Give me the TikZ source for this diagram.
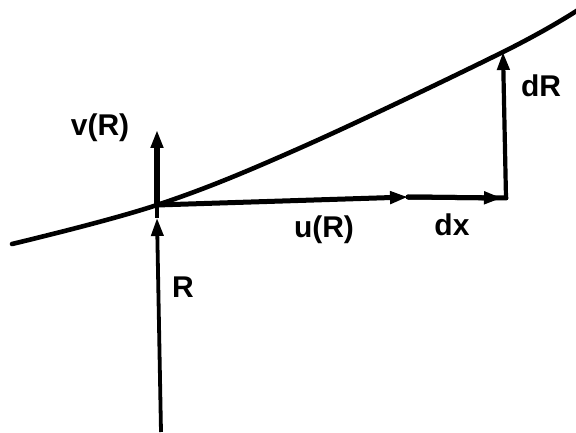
\documentclass[tikz,border=0pt]{standalone}
\usepackage{fontspec}
\setmainfont{Liberation Sans}
\usetikzlibrary{arrows.meta}
\tikzset{
  lbl/.style={font=\fontsize{30}{30}\selectfont\bfseries, inner sep=0pt},
  vec/.style={line width=5pt, line cap=round, line join=round},
  tipv/.style={-{Triangle[length=18pt,width=12pt]}},
}
\begin{document}
\begin{tikzpicture}[x=1pt,y=-1pt]
\useasboundingbox (0,0) rectangle (576,433);
% key points
\coordinate (P) at (157,205);
\coordinate (B) at (161,432);
\coordinate (Rt) at (157,218);
\coordinate (V) at (157,130);
\coordinate (Um) at (408,197);
\coordinate (C) at (506,198);
\coordinate (D) at (503,52);
\coordinate (L) at (12,244);
\coordinate (E) at (578,10);
% curve
\draw[line width=4.6pt, line cap=round] plot[smooth, tension=0.6] coordinates {(L) (P) (300,148) (D) (E)};
% R arrow
\draw[line width=3.8pt, tipv] (B) -- (Rt);
\draw[line width=3.8pt] (Rt) -- (P);
% v(R)
\draw[vec, line width=6pt, tipv] (P) -- (V);
% u(R)
\draw[vec, tipv] (P) -- (Um);
\draw[vec, tipv] (Um) -- ([xshift=-4pt]C);
\draw[vec] (Um) -- (C);
% dR
\draw[line width=4.2pt, line cap=round, tipv] (C) -- (D);
% labels
\node[lbl] (lv) at (100,128) {v(R)};
\node[lbl] (lR) at (183,287) {R};
\node[lbl] (lu) at (324,230) {u(R)};
\node[lbl] (ldx) at (452,225) {dx};
\node[lbl] (ldR) at (541,86) {dR};
\end{tikzpicture}
\end{document}
